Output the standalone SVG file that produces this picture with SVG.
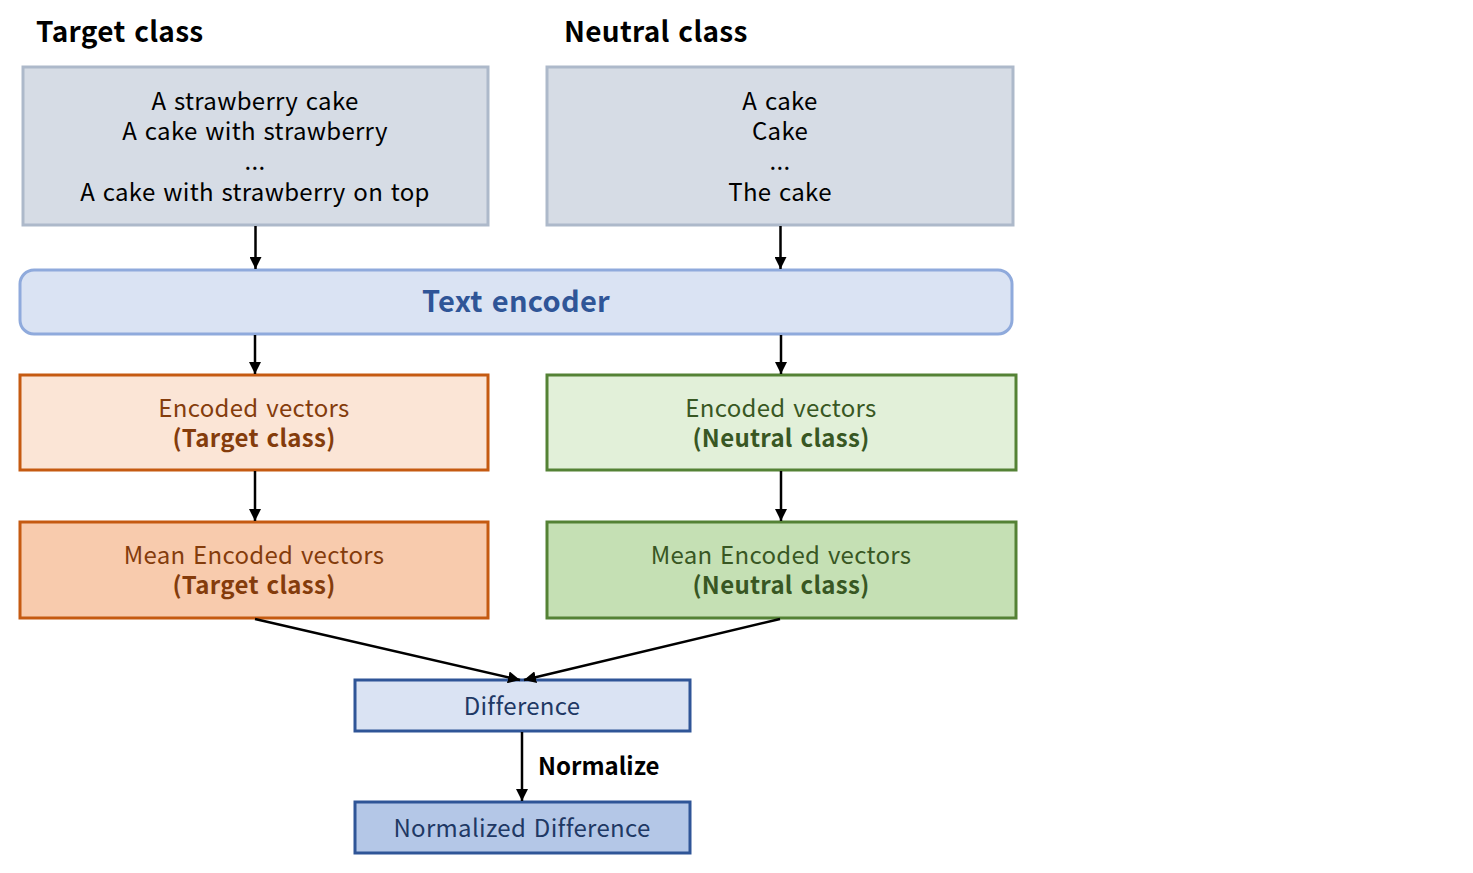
<svg xmlns="http://www.w3.org/2000/svg" width="1473" height="873" viewBox="0 0 1473 873">
<defs>
<marker id="arr" viewBox="0 0 12 12" refX="12" refY="6" markerWidth="12" markerHeight="12" orient="auto" markerUnits="userSpaceOnUse">
<path d="M0,0 L12,6 L0,12 z" fill="#000"/>
</marker>
</defs>
<style>
text{font-family:"Noto Sans CJK KR","Noto Sans",sans-serif;text-anchor:middle;letter-spacing:0.3px;word-spacing:2px;}
.t{font-size:24px;fill:#000;}
.h{font-size:28px;font-weight:bold;fill:#000;text-anchor:start;}
.gray{fill:#d6dce5;stroke:#adb9ca;stroke-width:3;}
.enc{fill:#dae3f3;stroke:#8faadc;stroke-width:3;}
.o1{fill:#fbe5d6;stroke:#c55a11;stroke-width:3;}
.o2{fill:#f8cbad;stroke:#c55a11;stroke-width:3;}
.g1{fill:#e2f0d9;stroke:#548235;stroke-width:3;}
.g2{fill:#c5e0b4;stroke:#548235;stroke-width:3;}
.b1{fill:#dae3f3;stroke:#2f5597;stroke-width:3;}
.b2{fill:#b4c7e7;stroke:#2f5597;stroke-width:3;}
.ot{font-size:24px;fill:#843c0c;}
.gt{font-size:24px;fill:#385723;}
.bt{font-size:24px;fill:#203864;}
.bold{font-weight:bold;}
.c{stroke:#000;stroke-width:2.5;fill:none;marker-end:url(#arr);}
</style>
<text class="h" x="36" y="42">Target class</text>
<text class="h" x="564" y="42">Neutral class</text>
<g id="target-prompts">
<rect class="gray" x="23" y="67" width="465" height="158"/>
<text class="t" x="255" y="110">A strawberry cake</text>
<text class="t" x="255" y="140">A cake with strawberry</text>
<text class="t" x="255" y="170">...</text>
<text class="t" x="255" y="201">A cake with strawberry on top</text>
</g>
<g id="neutral-prompts">
<rect class="gray" x="547" y="67" width="466" height="158"/>
<text class="t" x="780" y="110">A cake</text>
<text class="t" x="780" y="140">Cake</text>
<text class="t" x="780" y="170">...</text>
<text class="t" x="780" y="201">The cake</text>
</g>
<g id="text-encoder">
<rect class="enc" x="20" y="270" width="992" height="64" rx="14"/>
<text x="516" y="312" style="font-size:29px;font-weight:bold;fill:#2f5597">Text encoder</text>
</g>
<g id="enc-target">
<rect class="o1" x="20" y="375" width="468" height="95"/>
<text class="ot" x="254" y="417">Encoded vectors</text>
<text class="ot bold" x="254" y="447">(Target class)</text>
</g>
<g id="mean-target">
<rect class="o2" x="20" y="522" width="468" height="96"/>
<text class="ot" x="254" y="564">Mean Encoded vectors</text>
<text class="ot bold" x="254" y="594">(Target class)</text>
</g>
<g id="enc-neutral">
<rect class="g1" x="547" y="375" width="469" height="95"/>
<text class="gt" x="781" y="417">Encoded vectors</text>
<text class="gt bold" x="781" y="447">(Neutral class)</text>
</g>
<g id="mean-neutral">
<rect class="g2" x="547" y="522" width="469" height="96"/>
<text class="gt" x="781" y="564">Mean Encoded vectors</text>
<text class="gt bold" x="781" y="594">(Neutral class)</text>
</g>
<g id="difference">
<rect class="b1" x="355" y="680" width="335" height="51"/>
<text class="bt" x="522" y="715">Difference</text>
</g>
<g id="normalized">
<rect class="b2" x="355" y="802" width="335" height="51"/>
<text class="bt" x="522" y="837">Normalized Difference</text>
</g>
<g id="connectors">
<line class="c" x1="255.5" y1="226" x2="255.5" y2="269"/>
<line class="c" x1="780.5" y1="226" x2="780.5" y2="269"/>
<line class="c" x1="255" y1="335" x2="255" y2="374"/>
<line class="c" x1="781" y1="335" x2="781" y2="374"/>
<line class="c" x1="255" y1="471" x2="255" y2="521"/>
<line class="c" x1="781" y1="471" x2="781" y2="521"/>
<line class="c" x1="255" y1="619" x2="520" y2="680"/>
<line class="c" x1="780" y1="619" x2="524" y2="680"/>
<line class="c" x1="522" y1="732" x2="522" y2="801"/>
<text x="538" y="775" style="font-size:24px;font-weight:bold;fill:#000;text-anchor:start;letter-spacing:0;word-spacing:0">Normalize</text>
</g>
</svg>
